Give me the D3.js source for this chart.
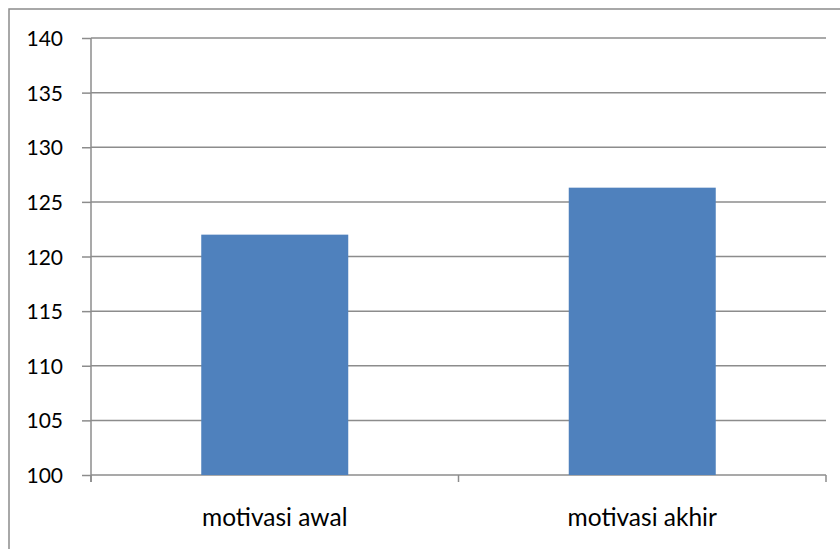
<!DOCTYPE html>
<html lang="en">
<head>
  <meta charset="utf-8">
  <title>motivasi</title>
  <style>
    html, body { margin: 0; padding: 0; background: #fff; }
    svg text { font-family: Lato, "Open Sans", sans-serif; fill: #000; }
  </style>
</head>
<body>
  <div id="chart"></div>

  <script src="https://d3js.org/d3.v7.min.js"></script>
  <script type="text/javascript">
    const categories = ['motivasi awal', 'motivasi akhir'];
    const values = [122.0, 126.3];
    const yTicks = [100, 105, 110, 115, 120, 125, 130, 135, 140];

    const width = 840;
    const height = 549;
    const margin = { top: 38, right: 14, bottom: 74, left: 91 };

    const svg = d3.select('#chart').append('svg')
      .attr('width', width)
      .attr('height', height);

    // outer chart frame (right/bottom edges fall outside the picture)
    svg.append('rect')
      .attr('x', 9).attr('y', 9)
      .attr('width', width + 20).attr('height', height + 20)
      .attr('fill', 'none')
      .attr('stroke', '#8c8c8c')
      .attr('stroke-width', 1.5);

    const x = d3.scaleBand()
      .domain(categories)
      .range([margin.left, width - margin.right])
      .paddingInner(0.6)
      .paddingOuter(0.3);

    const y = d3.scaleLinear()
      .domain([100, 140])
      .range([height - margin.bottom, margin.top]);

    // horizontal grid
    svg.append('g')
      .selectAll('line')
      .data(yTicks)
      .enter().append('line')
      .attr('x1', margin.left)
      .attr('x2', width - margin.right)
      .attr('y1', d => y(d))
      .attr('y2', d => y(d))
      .attr('stroke', '#8c8c8c')
      .attr('stroke-width', 1.5);

    // bars
    svg.append('g')
      .selectAll('rect')
      .data(categories)
      .enter().append('rect')
      .attr('x', d => x(d))
      .attr('width', x.bandwidth())
      .attr('y', (d, i) => y(values[i]))
      .attr('height', (d, i) => y(100) - y(values[i]))
      .attr('fill', '#4f81bd');

    // y axis
    const yAxis = svg.append('g')
      .attr('transform', `translate(${margin.left},0)`)
      .call(d3.axisLeft(y).tickValues(yTicks).tickSize(9).tickPadding(19).tickSizeOuter(0));
    yAxis.select('.domain').attr('stroke', '#8c8c8c').attr('stroke-width', 1.5)
      .attr('d', `M0,${y(140)}V${y(100) + 7}`);
    yAxis.selectAll('.tick line').attr('stroke', '#8c8c8c').attr('stroke-width', 1.5);
    yAxis.selectAll('.tick text').style('font-size', '21px').attr('dy', '0.36em');

    // x axis
    const xAxis = svg.append('g')
      .attr('transform', `translate(0,${y(100)})`);
    const bounds = [margin.left, margin.left + x.step(), width - margin.right];
    xAxis.selectAll('line.tk')
      .data(bounds)
      .enter().append('line')
      .attr('class', 'tk')
      .attr('x1', d => d).attr('x2', d => d)
      .attr('y1', 0).attr('y2', 7)
      .attr('stroke', '#8c8c8c')
      .attr('stroke-width', 1.5);
    xAxis.selectAll('text')
      .data(categories)
      .enter().append('text')
      .attr('x', d => x(d) + x.bandwidth() / 2)
      .attr('y', 51)
      .attr('text-anchor', 'middle')
      .style('font-size', '24.5px')
      .text(d => d);
  </script>
</body>
</html>
